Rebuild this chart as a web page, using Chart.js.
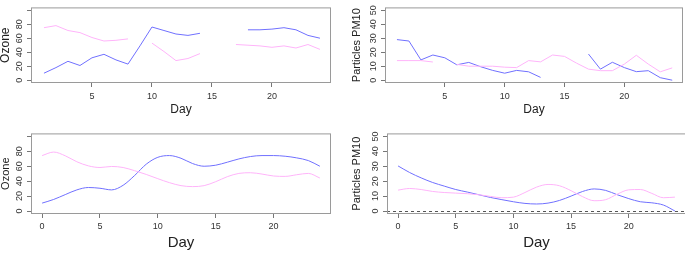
<!DOCTYPE html>
<html>
<head>
<meta charset="utf-8">
<script src="https://cdn.jsdelivr.net/npm/chart.js@4/dist/chart.umd.min.js"></script>
<style>
  html, body { margin: 0; padding: 0; background: #fff; overflow: hidden; }
  body { width: 685px; height: 253px; position: relative; }
  canvas { position: absolute; }
</style>
</head>
<body>
<canvas id="tl" width="342" height="126" style="left:0;top:0"></canvas>
<canvas id="tr" width="343" height="126" style="left:342px;top:0"></canvas>
<canvas id="bl" width="342" height="127" style="left:0;top:126px"></canvas>
<canvas id="br" width="346" height="127" style="left:342px;top:126px"></canvas>
<script>
// --- datos crudos (días 1..24, null = sin medición) ---
const rawDays = [1,2,3,4,5,6,7,8,9,10,11,12,13,14,15,16,17,18,19,20,21,22,23,24];
const ozoneBlue = [10,18,27,21,32,37,29,23,49,76,71,66,64,67,null,null,null,72,72,73,75,72,64,60];
const ozonePink = [75,78,71,68,61,56,57,59,null,53,41,28,31,38,null,null,51,50,49,47,49,46,51,44];
const pmBlue = [29,28,14.5,18,16,11,12.7,9.6,7,5,7,6,2,null,null,null,18.7,7.9,12.8,9,6.1,6.8,1.8,0];
const pmPink = [14,14,14,13,null,11.3,10,10,10,9.3,9,14,13.1,18,17,12.2,7.9,6.8,6.8,11.5,17.8,11.5,6,8.8];

// --- curvas suavizadas (días 0..24) ---
const smoothDays = [0,1,2,3,4,5,6,7,8,9,10,11,12,13,14,15,16,17,18,19,20,21,22,23,24];
const ozoneBlueSmooth = [10.6,15.5,22,28.3,31.5,30.5,28.3,34.5,47.7,62.8,72,74.3,70.7,63.6,60,61.4,65.4,69.8,73,74.3,74.3,73.4,71.2,67.6,60];
const ozonePinkSmooth = [74.3,79,74,66,60.5,58.3,59.7,58.3,54,49,43.3,38,34,32.7,34,39.3,46,50.4,51.3,49.5,46.9,46.4,48.6,50.4,44.2];
const pmBlueSmooth = [30.2,25.8,22.2,19.1,16.7,14.4,12.7,10.9,9.1,7.6,6.2,5.1,4.7,5.3,7.1,10,13.1,14.8,13.8,10.9,8.3,6.2,5.5,4,0];
const pmPinkSmooth = [14,15.1,14.4,13.1,12.4,12,11.6,10.9,9.8,8.9,9.3,12.4,16,17.8,16.9,13.6,9.6,6.9,7.6,11.3,14.2,14.4,11.8,8.9,9.3];

// --- ejes ---
const xTicksRaw = [5,10,15,20];
const xTicksSmooth = [0,5,10,15,20];
const ozoneTicks = [0,20,40,60,80,100];
const ozoneTickLabels = ["0","20","40","60","80",""];
const pmTicks = [0,10,20,30,40,50];
const pmTickLabels = ["0","10","20","30","40","50"];
const zeroLine = 0;

const BLUE = "rgb(112,112,255)";
const PINK = "rgb(255,180,250)";
const FONT = "'Liberation Sans', Arial, sans-serif";

const boxPlugin = {
  id: "box",
  afterDraw(chart){
    const {ctx, chartArea: a} = chart;
    ctx.save();
    ctx.strokeStyle = "#9a9a9a";
    ctx.lineWidth = 1;
    ctx.strokeRect(a.left + 0.5, a.top + 0.5, a.right - a.left - 1, a.bottom - a.top - 1);
    ctx.restore();
  }
};

// línea de referencia punteada (abline h = 0)
const hlinePlugin = {
  id: "hline",
  afterDatasetsDraw(chart, args, opts){
    if (opts.value == null) return;
    const {ctx, chartArea: a, scales} = chart;
    const y = Math.round(scales.y.getPixelForValue(opts.value)) + 0.5;
    ctx.save();
    ctx.strokeStyle = "#555";
    ctx.lineWidth = 1;
    ctx.setLineDash([3, 3]);
    ctx.beginPath();
    ctx.moveTo(a.left, y);
    ctx.lineTo(a.right, y);
    ctx.stroke();
    ctx.restore();
  }
};

function pts(xs, ys){
  return xs.map((x, i) => ({ x, y: ys[i] }));
}

function makePanel(id, cfg){
  const ds = cfg.series.map(s => ({
    data: pts(cfg.days, s.values),
    borderColor: s.color,
    borderWidth: 1,
    pointRadius: 0,
    fill: false,
    spanGaps: false,
    tension: cfg.smooth ? 0.4 : 0,
    cubicInterpolationMode: cfg.smooth ? "monotone" : "default"
  }));

  return new Chart(document.getElementById(id), {
    type: "line",
    data: { datasets: ds },
    options: {
      responsive: false,
      animation: false,
      devicePixelRatio: 1,
      layout: { padding: { top: cfg.padTop, right: cfg.padRight, left: 0, bottom: 0 } },
      plugins: {
        legend: { display: false },
        tooltip: { enabled: false },
        hline: { value: cfg.hline }
      },
      scales: {
        x: {
          type: "linear",
          min: cfg.xMin, max: cfg.xMax,
          afterBuildTicks: s => { s.ticks = cfg.xTicks.map(v => ({ value: v })); },
          afterFit: s => { s.height = cfg.xHeight; },
          border: { display: false },
          grid: { drawOnChartArea: false, drawTicks: true, tickLength: 4, color: "#777" },
          ticks: { color: "#333", font: { family: FONT, size: 9 }, padding: cfg.xTickPad, maxRotation: 0, autoSkip: false },
          title: { display: true, text: "Day", color: "#222",
                   font: { family: FONT, size: cfg.xTitleSize, lineHeight: 1 },
                   padding: { top: 0, bottom: cfg.xTitlePad } }
        },
        y: {
          min: cfg.yMin, max: cfg.yMax,
          afterBuildTicks: s => { s.ticks = cfg.yTicks.map(v => ({ value: v })); },
          afterFit: s => { s.width = cfg.yWidth; },
          border: { display: false },
          grid: { drawOnChartArea: false, drawTicks: true, tickLength: 4, color: "#777" },
          ticks: {
            color: "#333", font: { family: FONT, size: 9 }, padding: 2,
            minRotation: 90, maxRotation: 90, crossAlign: "center", autoSkip: false,
            callback: v => cfg.yLabels[cfg.yTicks.indexOf(v)]
          },
          title: { display: true, text: cfg.yTitle, color: "#222",
                   font: { family: FONT, size: cfg.yTitleSize, lineHeight: 1 },
                   padding: { top: cfg.yTitlePad, bottom: 0 } }
        }
      }
    },
    plugins: [boxPlugin, hlinePlugin]
  });
}

// arriba izquierda: ozono crudo
makePanel("tl", {
  days: rawDays, smooth: false,
  series: [{ values: ozonePink, color: PINK }, { values: ozoneBlue, color: BLUE }],
  xMin: -0.08, xMax: 24.92, xTicks: xTicksRaw,
  yMin: -4, yMax: 104, yTicks: ozoneTicks, yLabels: ozoneTickLabels,
  yTitle: "Ozone", yTitleSize: 12, yTitlePad: 0, yWidth: 31,
  xHeight: 43, xTickPad: 4, xTitleSize: 12, xTitlePad: 10.5,
  padTop: 2, padRight: 11
});

// arriba derecha: PM10 crudo
makePanel("tr", {
  days: rawDays, smooth: false,
  series: [{ values: pmPink, color: PINK }, { values: pmBlue, color: BLUE }],
  xMin: 0, xMax: 24.9, xTicks: xTicksRaw,
  yMin: -2, yMax: 52, yTicks: pmTicks, yLabels: pmTickLabels,
  yTitle: "Particles PM10", yTitleSize: 11, yTitlePad: 9.5, yWidth: 43,
  xHeight: 43, xTickPad: 4, xTitleSize: 12, xTitlePad: 10,
  padTop: 2, padRight: 2
});

// abajo izquierda: ozono suavizado
makePanel("bl", {
  days: smoothDays, smooth: true,
  series: [{ values: ozonePinkSmooth, color: PINK }, { values: ozoneBlueSmooth, color: BLUE }],
  xMin: -0.96, xMax: 24.96, xTicks: xTicksSmooth,
  yMin: -4, yMax: 104, yTicks: ozoneTicks, yLabels: ozoneTickLabels,
  yTitle: "Ozone", yTitleSize: 11, yTitlePad: 0, yWidth: 31,
  xHeight: 39, xTickPad: 3, xTitleSize: 15, xTitlePad: 2.5,
  padTop: 6, padRight: 11
});

// abajo derecha: PM10 suavizado + línea en 0
makePanel("br", {
  days: smoothDays, smooth: true,
  series: [{ values: pmPinkSmooth, color: PINK }, { values: pmBlueSmooth, color: BLUE }],
  xMin: -0.96, xMax: 24.96, xTicks: xTicksSmooth,
  yMin: -2, yMax: 52, yTicks: pmTicks, yLabels: pmTickLabels,
  yTitle: "Particles PM10", yTitleSize: 11, yTitlePad: 9.5, yWidth: 45,
  xHeight: 39, xTickPad: 3, xTitleSize: 15, xTitlePad: 2.5,
  padTop: 6, padRight: 2,
  hline: zeroLine
});
</script>
</body>
</html>
